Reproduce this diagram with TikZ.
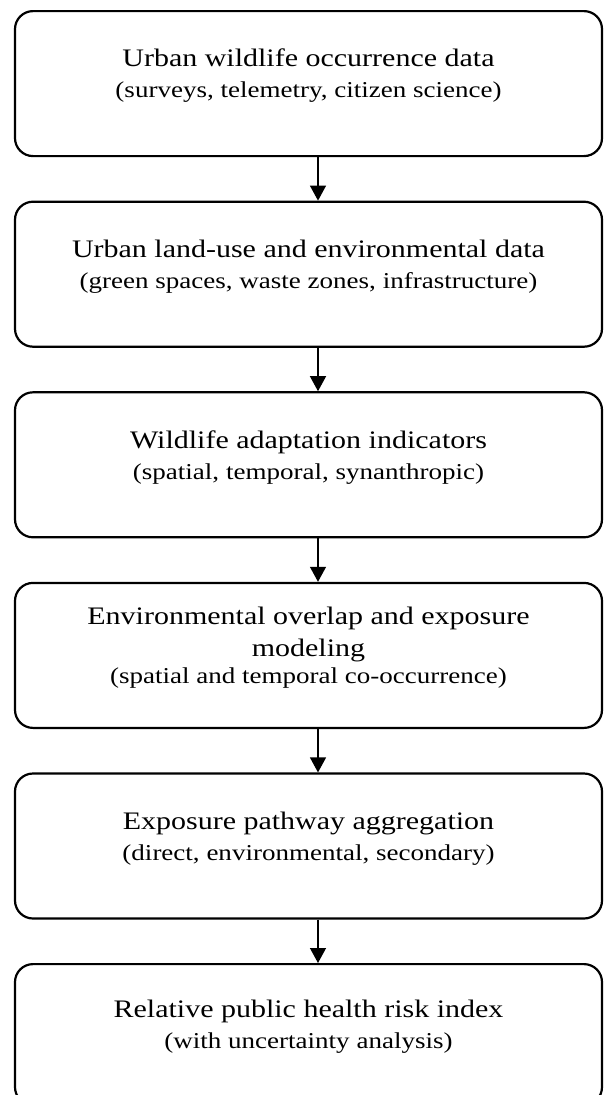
\documentclass[tikz,border=0pt]{standalone}
\usepackage{fontspec}
\setmainfont{Liberation Serif}[FakeStretch=1.19]
\usetikzlibrary{arrows.meta, positioning}

\newcommand{\steptitle}{\fontsize{25.2}{32}\selectfont}
\newcommand{\stepnote}{\fontsize{22.7}{29}\selectfont}

\begin{document}
\begin{tikzpicture}[x=1pt, y=1pt,
  stepbox/.style={draw, line width=2.2pt, rounded corners=18pt,
    minimum width=587pt, minimum height=145pt, inner sep=0pt,
    align=center, font=\steptitle, text depth=20pt},
  flow/.style={-{Triangle[length=15pt, width=16pt]}, line width=1.3pt},
  node distance=43.4pt]
% Page frame (fixes the margins)
\useasboundingbox (0,0) rectangle (603,-1095);
% Pipeline steps, top to bottom
\node[stepbox, anchor=north] (occur) at (308.5,-10)
  {Urban wildlife occurrence data\\[-1pt]
   {\stepnote (surveys, telemetry, citizen science)}};
\node[stepbox, below=of occur] (landuse)
  {Urban land-use and environmental data\\[-1pt]
   {\stepnote (green spaces, waste zones, infrastructure)}};
\node[stepbox, below=of landuse] (adapt)
  {Wildlife adaptation indicators\\[-1pt]
   {\stepnote (spatial, temporal, synanthropic)}};
\node[stepbox, below=of adapt] (overlap)
  {Environmental overlap and exposure\\ modeling\\[-5pt]
   {\stepnote (spatial and temporal co-occurrence)}};
\node[stepbox, below=of overlap] (pathway)
  {Exposure pathway aggregation\\[-1pt]
   {\stepnote (direct, environmental, secondary)}};
\node[stepbox, below=of pathway, minimum height=141pt] (riskidx)
  {Relative public health risk index\\[-1pt]
   {\stepnote (with uncertainty analysis)}};
% Arrows (slightly right of the box centres, as in the source)
\draw[flow] ([xshift=9.5pt]occur.south) -- ([xshift=9.5pt]landuse.north);
\draw[flow] ([xshift=9.5pt]landuse.south) -- ([xshift=9.5pt]adapt.north);
\draw[flow] ([xshift=9.5pt]adapt.south) -- ([xshift=9.5pt]overlap.north);
\draw[flow] ([xshift=9.5pt]overlap.south) -- ([xshift=9.5pt]pathway.north);
\draw[flow] ([xshift=9.5pt]pathway.south) -- ([xshift=9.5pt]riskidx.north);
\end{tikzpicture}
\end{document}
